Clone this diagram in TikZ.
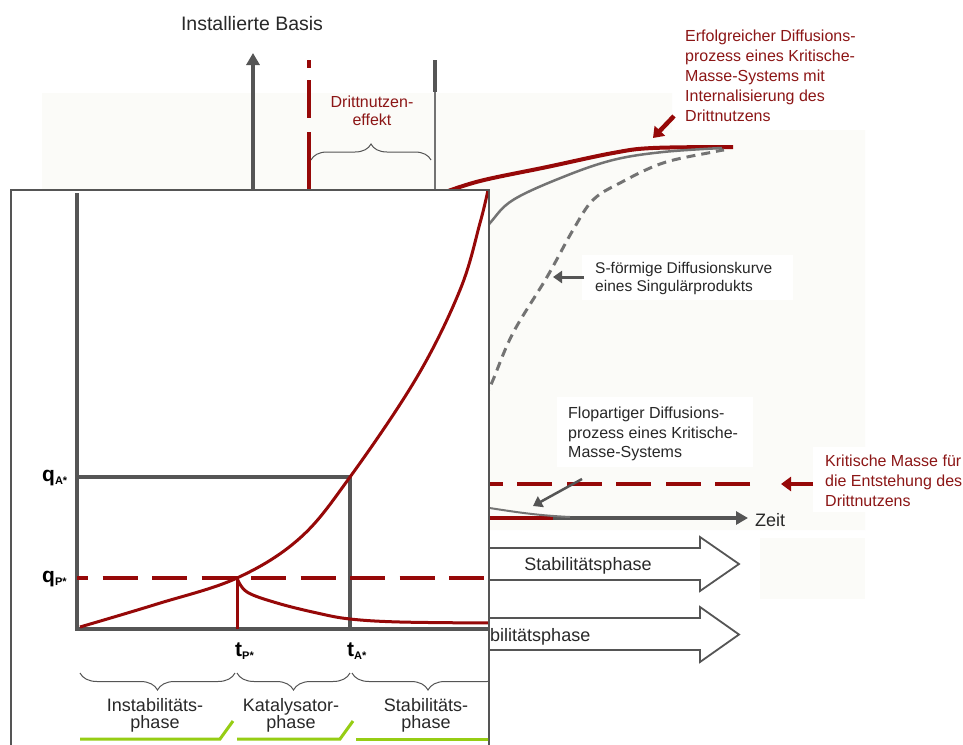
\documentclass[tikz,border=0pt]{standalone}
\usepackage{fontspec}
\setmainfont{Liberation Sans}
\usetikzlibrary{arrows.meta,decorations.pathreplacing}
\definecolor{dred}{RGB}{150,8,8}
\definecolor{tred}{RGB}{140,22,22}
\definecolor{axgray}{RGB}{85,85,85}
\definecolor{midgray}{RGB}{115,115,115}
\definecolor{haze}{RGB}{251,251,248}
\definecolor{lime}{RGB}{150,205,20}
\definecolor{ink}{RGB}{40,40,40}
\newcommand\symsub[1]{\raisebox{-3pt}{\fontsize{11}{11}\selectfont\bfseries #1}}
\tikzset{
  axisline/.style={draw=axgray,line width=3.5pt},
  curvered/.style={draw=dred,line width=3pt,line join=round},
  dashred/.style={draw=dred,line width=4pt,dash pattern=on 35pt off 14.5pt},
  graytip/.style={-{Triangle[length=12pt,width=13pt]}},
  pointer/.style={draw=axgray,line width=3pt,-{Triangle[length=9pt,width=12pt]}},
  redpointer/.style={draw=dred,line width=4.5pt,-{Triangle[length=10pt,width=14pt]}},
  phasearrow/.style={draw=axgray,line width=1.8pt,fill=white,line join=miter},
  notered/.style={text=tred,font=\fontsize{16}{20}\selectfont,align=left,inner sep=0pt,anchor=north west},
  noteblack/.style={text=ink,font=\fontsize{16}{19.5}\selectfont,align=left,inner sep=0pt,anchor=north west},
  phasetext/.style={text=ink,font=\fontsize{18}{17.5}\selectfont,align=center,inner sep=0pt,anchor=north},
  symlabel/.style={font=\fontsize{21}{21}\selectfont\bfseries,inner sep=0pt,anchor=base west},
  bracebot/.style={draw=axgray,line width=1pt,decorate,decoration={brace,amplitude=17pt}},
  greenrule/.style={draw=lime,line width=3pt,line join=miter},
}
\begin{document}
\begin{tikzpicture}[x=1pt,y=-1pt]
\useasboundingbox (0,0) rectangle (963,744);
\fill[white] (0,0) rectangle (963,744);

% hazy backdrop of the diffusion chart
\fill[haze] (42,93) -- (672,93) -- (672,130) -- (865,130) -- (865,530) -- (42,530) -- cycle;
\fill[haze] (760,538) rectangle (865,599);
% white patches behind the notes
\fill[white] (582,255) rectangle (793,300);
\fill[white] (557,397) rectangle (753,467);
\fill[white] (813,447) rectangle (963,512);

% vertical axis of the installed base
\node[font=\fontsize{19.5}{20}\selectfont,text=ink] (basis) at (252,24) {Installierte Basis};
\coordinate (ybot) at (253,195);
\coordinate (ytop) at (253,53);
\draw[axisline,graytip] (ybot) -- (ytop);

% third-party benefit span
\coordinate (dtop) at (309,60);
\coordinate (dbot) at (309,192);
\draw[draw=dred,line width=4pt,dash pattern=on 8pt off 12pt on 38pt off 14pt on 60pt] (dtop) -- (dbot);
\coordinate (gtop) at (435,60);
\coordinate (gmid) at (435,92);
\coordinate (gbot) at (435,192);
\draw[draw=midgray,line width=2.5pt] (gtop) -- (gbot);
\draw[draw=axgray,line width=4pt] (gtop) -- (gmid);
\coordinate (bl) at (311,160);
\coordinate (br) at (431,160);
\draw[draw=axgray,line width=1pt,decorate,decoration={brace,amplitude=16pt}] (bl) -- (br);
\node[text=tred,font=\fontsize{16}{18}\selectfont,align=center,inner sep=0pt,anchor=north] (dn) at (372,96) {Drittnutzen-\\effekt};

% diffusion curves
\draw[curvered,line width=4pt] plot[smooth,tension=0.6] coordinates {(440,194) (480,181) (547,167) (613,153) (653,148) (733,147)};
\draw[draw=midgray,line width=2.5pt] plot[smooth,tension=0.6] coordinates {(470,248) (490,223) (513,200) (563,177) (613,160) (663,152) (722,148)};
\draw[draw=midgray,line width=3pt,dash pattern=on 9pt off 6pt] plot[smooth,tension=0.6] coordinates {(485,398) (493,380) (513,333) (547,277) (573,230) (593,200) (620,183) (663,163) (713,152) (724,150)};

% notes and pointers
\node[notered] (etext) at (685,30) {Erfolgreicher Diffusions-\\prozess eines Kritische-\\Masse-Systems mit\\Internalisierung des\\Drittnutzens};
\coordinate (ea) at (674,116);
\coordinate (eb) at (653,138);
\draw[redpointer] (ea) -- (eb);

\node[noteblack,font=\fontsize{15.5}{18}\selectfont] (stext) at (595,262) {S-förmige Diffusionskurve\\eines Singulärprodukts};
\coordinate (sa) at (584,277);
\coordinate (sb) at (553,277);
\draw[pointer] (sa) -- (sb);

\node[noteblack] (ftext) at (568,407) {Flopartiger Diffusions-\\prozess eines Kritische-\\Masse-Systems};

% critical mass level
\coordinate (cmr) at (750,484);
\coordinate (cml) at (470,484);
\draw[dashred] (cmr) -- (cml);
\node[notered] (ktext) at (825,455) {Kritische Masse für\\die Entstehung des\\Drittnutzens};
\coordinate (ka) at (813,484);
\coordinate (kb) at (781,484);
\draw[redpointer] (ka) -- (kb);

% time axis
\coordinate (t0) at (470,518);
\coordinate (tr) at (553,518);
\coordinate (t1) at (748,518);
\draw[axisline,graytip] (t0) -- (t1);
\draw[draw=dred,line width=4pt] (t0) -- (tr);
\node[font=\fontsize{18}{18}\selectfont,text=ink,anchor=west,inner sep=0pt] (zeit) at (755,520) {Zeit};
\coordinate (fl0) at (470,505);
\coordinate (fl1) at (570,517);
\draw[draw=midgray,line width=2pt] (fl0) .. controls (510,511) and (530,515) .. (fl1);
\coordinate (fa) at (582,479);
\coordinate (fb) at (533,506);
\draw[pointer,line width=2.5pt] (fa) -- (fb);

% phase arrows
\draw[phasearrow] (440,548) -- (700,548) -- (700,537) -- (739,564) -- (700,591) -- (700,580) -- (440,580) -- cycle;
\node[font=\fontsize{18}{18}\selectfont,text=ink,anchor=base,inner sep=0pt] (ph1) at (588,570.5) {Stabilitätsphase};
\draw[phasearrow] (440,618) -- (700,618) -- (700,607) -- (739,634.5) -- (700,662) -- (700,650) -- (440,650) -- cycle;
\node[font=\fontsize{18}{18}\selectfont,text=ink,anchor=base west,inner sep=0pt] (ph2) at (463,641) {Stabilitätsphase};

% front panel: phase model
\draw[draw=axgray,line width=1.5pt,fill=white] (11,190) rectangle (489,760);
\begin{scope}
\clip (12,191) rectangle (488,744);
\coordinate (o) at (77,629);
\coordinate (yend) at (77,193);
\coordinate (xend) at (490,629);
\draw[axisline] (yend) -- (o) -- (xend);
\coordinate (qaL) at (77,477);
\coordinate (qaR) at (350,477);
\coordinate (taB) at (350,629);
\draw[axisline] (qaL) -- (qaR) -- (taB);
\coordinate (qpL) at (77,578);
\coordinate (qpR) at (490,578);
\draw[dashred,line width=3.5pt,dash phase=24pt] (qpL) -- (qpR);
\draw[curvered] plot[smooth,tension=0.6] coordinates {(80,627) (157,604) (237,578) (300,538) (350,477) (417,377) (460,290) (480,223) (488,190)};
\draw[curvered] plot[smooth,tension=0.6] coordinates {(237,578) (247,592) (277,603) (317,613) (350,619) (400,622) (490,623)};
\coordinate (tpT) at (237,578);
\coordinate (tpB) at (237,629);
\draw[curvered] (tpT) -- (tpB);

\node[symlabel] (qa) at (42,481) {q\symsub{A*}};
\node[symlabel] (qp) at (42,582) {q\symsub{P*}};
\node[symlabel] (tp) at (235,656) {t\symsub{P*}};
\node[symlabel] (ta) at (347,656) {t\symsub{A*}};

\draw[bracebot] (235,673) -- (80,673);
\draw[bracebot] (350,673) -- (237,673);
\draw[bracebot] (504,673) -- (352,673);

\node[phasetext] (p1) at (155,698) {Instabilitäts-\\phase};
\node[phasetext] (p2) at (291,698) {Katalysator-\\phase};
\node[phasetext] (p3) at (426,698) {Stabilitäts-\\phase};

\draw[greenrule] (80,739) -- (220,739) -- (233,721);
\draw[greenrule] (237,739) -- (340,739) -- (353,721);
\draw[greenrule] (356,739) -- (490,739);
\end{scope}
\end{tikzpicture}
\end{document}
